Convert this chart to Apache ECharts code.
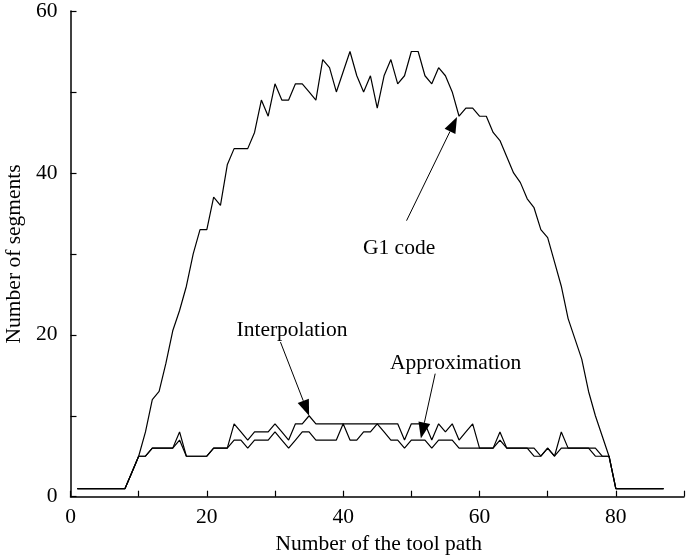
<!DOCTYPE html>
<html><head><meta charset="utf-8">
<script src="https://cdn.jsdelivr.net/npm/echarts@6/dist/echarts.min.js"></script>
<style>html,body{margin:0;padding:0;background:#fff}#c{width:687px;height:556px}</style>
</head><body><div id="c"></div><script>
// ---- data ----
const pathNumbers = Array.from({length: 87}, (_, i) => i + 1);
const g1Code = [
  1,1,1,1,1,1,1,1,
  3,5,
  8,12,13,16.5,20.5,23,26,30,33,33,
  37,36,41,43,43,43,45,49,47,51,
  49,49,51,51,50,49,54,53,50,52.5,
  55,52,50,52,48,52,54,51,52,55,
  55,52,51,53,52,50,47,48,48,47,
  47,45,44,42,40,38.8,36.8,35.7,33,32,
  29,26,22,19.5,17,13,10,7.5,5,1,
  1,1,1,1,1,1,1
];
const interpolation = [
  1,1,1,1,1,1,1,1,
  3,5,
  5,6,6,6,6,8,5,5,5,5,
  6,6,6,9,8,7,8,8,8,9,
  8,7,9,9,10,9,9,9,9,9,
  9,9,9,9,9,9,9,9,7,9,
  9,9,7,9,8,9,7,8,9,6,
  6,6,8,6,6,6,6,6,5,6,
  5,8,6,6,6,6,6,5,5,1,
  1,1,1,1,1,1,1
];
const approximation = [
  1,1,1,1,1,1,1,1,
  3,5,
  5,6,6,6,6,7,5,5,5,5,
  6,6,6,7,7,6,7,7,7,8,
  7,6,7,8,8,7,7,7,7,9,
  7,7,8,8,9,8,7,7,6,7,
  7,7,6,7,7,7,6,6,6,6,
  6,6,7,6,6,6,6,5,5,6,
  5,6,6,6,6,6,5,5,5,1,
  1,1,1,1,1,1,1
];
const xLabelValues = [0, 20, 40, 60, 80];
const yLabelValues = [0, 20, 40, 60];
const xTitle = 'Number of the tool path';
const yTitle = 'Number of segments';

// ---- chart ----
const FONT = '"Liberation Serif", "Times New Roman", serif';
const FS = 21.5;
const chart = echarts.init(document.getElementById('c'), null, {renderer: 'canvas'});
const pairs = arr => pathNumbers.map((x, i) => [x, arr[i]]);
const mkLine = (name, arr) => ({
  type: 'line', name, data: pairs(arr), symbol: 'none', silent: true,
  lineStyle: {color: '#000', width: 1.2}, z: 3
});
const axisCommon = {
  type: 'value', interval: 10,
  axisLine: {show: true, onZero: false, lineStyle: {color: '#000', width: 1.5}},
  axisTick: {show: true, inside: true, length: 6, lineStyle: {color: '#000', width: 1.2}},
  splitLine: {show: false}
};
chart.setOption({
  animation: false,
  grid: {left: 70.5, top: 11, width: 618.3, height: 485.7, containLabel: false},
  xAxis: Object.assign({}, axisCommon, {
    min: 0, max: 90,
    axisLabel: {formatter: v => xLabelValues.includes(v) ? String(v) : '', fontFamily: FONT, fontSize: FS, color: '#000', margin: 10}
  }),
  yAxis: Object.assign({}, axisCommon, {
    min: 0, max: 60,
    axisLabel: {formatter: v => yLabelValues.includes(v) ? String(v) : '', fontFamily: FONT, fontSize: FS, color: '#000', margin: 13}
  }),
  series: [
    mkLine('G1 code', g1Code),
    mkLine('Interpolation', interpolation),
    mkLine('Approximation', approximation)
  ]
});

// ---- annotations (data coordinates) ----
const notes = [
  {text: 'G1 code', label: [48.2, 30.7], tail: [49.3, 34.1], tip: [56.7, 46.9]},
  {text: 'Interpolation', label: [32.5, 20.6], tail: [30.8, 19.1], tip: [35, 10]},
  {text: 'Approximation', label: [56.5, 16.5], tail: [53.5, 15.2], tip: [51.4, 7.2]}
];
const px = p => chart.convertToPixel({gridIndex: 0}, p);
const elements = [];
notes.forEach(n => {
  const l = px(n.label), t = px(n.tail), h = px(n.tip);
  const dx = h[0] - t[0], dy = h[1] - t[1], len = Math.hypot(dx, dy);
  const ux = dx / len, uy = dy / len, L = 16, W = 6;
  const bx = h[0] - ux * L, by = h[1] - uy * L;
  elements.push({type: 'line', shape: {x1: t[0], y1: t[1], x2: bx, y2: by}, style: {stroke: '#000', lineWidth: 1}});
  elements.push({type: 'polygon', shape: {points: [[h[0], h[1]], [bx - uy * W, by + ux * W], [bx + uy * W, by - ux * W]]}, style: {fill: '#000'}});
  elements.push({type: 'text', x: l[0], y: l[1], style: {text: n.text, fill: '#000', fontFamily: FONT, fontSize: FS, align: 'center', verticalAlign: 'middle'}});
});
const gl = px([0, 0]), gr = px([90, 60]);
elements.push({type: 'text', x: (gl[0] + 687) / 2, y: 544, style: {text: xTitle, fill: '#000', fontFamily: FONT, fontSize: FS, align: 'center', verticalAlign: 'middle'}});
elements.push({type: 'text', x: 14, y: (gl[1] + gr[1]) / 2, rotation: Math.PI / 2, style: {text: yTitle, fill: '#000', fontFamily: FONT, fontSize: FS, align: 'center', verticalAlign: 'middle'}});
chart.setOption({graphic: {elements}});
</script></body></html>
